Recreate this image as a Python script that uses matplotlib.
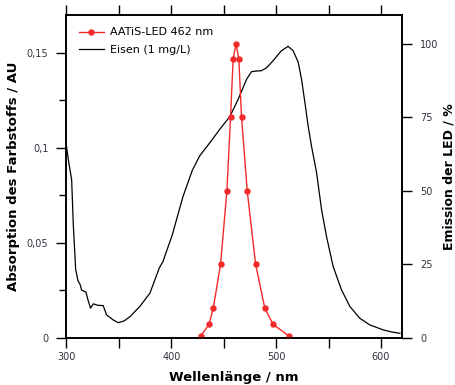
import matplotlib
matplotlib.use("Agg")
import matplotlib.pyplot as plt
from matplotlib.ticker import MultipleLocator

# Absorption spectrum of the iron dye (1 mg/L), left axis
eisen_nm = [300, 302, 305, 306.5, 308.8, 311, 313, 314.5, 318.6, 320.5, 323,
            325.6, 330, 335, 338.3, 344.6, 349.4, 355, 360.5, 370, 379.6,
            388.5, 392, 400.9, 411, 420, 427, 436.8, 446.3, 455.9, 463.8,
            471.8, 476.5, 481, 486, 490.8, 497, 505, 511.4, 516.2, 521, 524.2,
            527.4, 530.5, 533.7, 538.5, 543.3, 548, 554.3, 562.3, 570.3,
            579.8, 589.3, 602, 610, 618]
eisen_abs = [0.101, 0.093, 0.083, 0.060, 0.036, 0.030, 0.028, 0.025, 0.024,
             0.020, 0.0155, 0.0178, 0.017, 0.0169, 0.012, 0.0093, 0.0079,
             0.0088, 0.011, 0.0164, 0.0234, 0.0366, 0.040, 0.054, 0.074,
             0.088, 0.0956, 0.1026, 0.1097, 0.1164, 0.1255, 0.136, 0.140,
             0.1403, 0.1405, 0.142, 0.1457, 0.151, 0.1533, 0.151, 0.145,
             0.136, 0.1238, 0.1114, 0.1008, 0.087, 0.0674, 0.0533, 0.0375,
             0.0252, 0.0164, 0.0102, 0.0067, 0.0041, 0.0030, 0.0023]

# LED emission (percent), right axis
led_nm = [428, 436, 440, 447, 453, 456.5, 459, 461.8, 464.4, 467, 472.4,
          480.4, 489.2, 497.1, 512.4]
led_pct = [0.5, 4.5, 10, 25, 50, 75, 95, 100, 95, 75, 50, 25, 10, 4.5, 0.5]

left_ticks = [0, 0.05, 0.1, 0.15]
left_labels = ["0", "0,05", "0,1", "0,15"]
right_ticks = [0, 25, 50, 75, 100]
x_ticks = [300, 400, 500, 600]

tick_color = "#333340"

fig = plt.figure(figsize=(4.55, 3.85), dpi=100)
ax = fig.add_axes([0.146, 0.123, 0.7375, 0.839])
ax2 = ax.twinx()

line_eisen, = ax.plot(eisen_nm, eisen_abs, color="black", lw=0.9,
                      label="Eisen (1 mg/L)")
line_led, = ax2.plot(led_nm, led_pct, color="#f22a2a", lw=1.0, marker="o",
                     ms=3.6, label="AATiS-LED 462 nm")

ax.set_xlim(300, 620)
ax.set_ylim(0, 0.17)
ax2.set_ylim(0, 110)

ax.set_xticks(x_ticks)
ax.xaxis.set_minor_locator(MultipleLocator(50))
ax.set_yticks(left_ticks)
ax.set_yticklabels(left_labels)
ax.yaxis.set_minor_locator(MultipleLocator(0.025))
ax2.set_yticks(right_ticks)

ax.tick_params(axis="x", which="both", direction="out", top=True,
               length=7, width=1, labelsize=7, labelcolor=tick_color)
ax.tick_params(axis="y", which="major", direction="out", length=7, width=1,
               labelsize=7, labelcolor=tick_color, pad=6)
ax.tick_params(axis="y", which="minor", direction="out", length=5, width=1)
ax2.tick_params(axis="y", direction="out", length=7, width=1, labelsize=7,
                labelcolor=tick_color, pad=6)

for a in (ax, ax2):
    for s in a.spines.values():
        s.set_linewidth(1.2)

ax.set_xlabel("Wellenlänge / nm", fontsize=9.5, fontweight="bold", labelpad=6)
ax.set_ylabel("Absorption des Farbstoffs / AU", fontsize=9.5,
              fontweight="bold", labelpad=5)
ax2.set_ylabel("Emission der LED / %", fontsize=9, fontweight="bold",
               labelpad=3)

ax.legend([line_led, line_eisen], [line_led.get_label(), line_eisen.get_label()],
          loc="upper left", frameon=False, fontsize=8, handlelength=2.2,
          borderaxespad=0.75, labelspacing=0.65, handletextpad=0.6)

fig.savefig("out.png", dpi=100)
